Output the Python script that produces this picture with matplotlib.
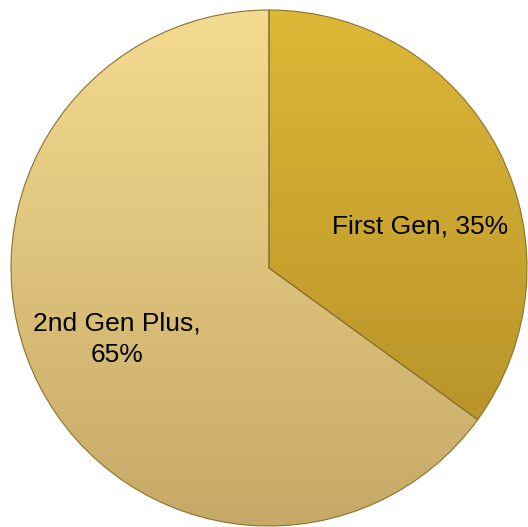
import numpy as np
import matplotlib
matplotlib.use("Agg")
from matplotlib import pyplot as plt
from matplotlib.colors import LinearSegmentedColormap

labels = ["First Gen", "2nd Gen Plus"]
shares = [35, 65]
label_text = ["First Gen, 35%", "2nd Gen Plus,\n65%"]
# top / bottom colours of the vertical gradient in each slice
top_colors = ["#DDB736", "#F4DB90"]
bottom_colors = ["#B08C27", "#C6A966"]
# baseline of the first line of each label, in data units
label_pos = [(0.585, 0.132), (-0.59, -0.244)]
line_gap = 0.12

fig = plt.figure(figsize=(5.28, 5.27), dpi=100)
ax = fig.add_axes([0, 0, 1, 1])
ax.axis("off")

wedges, _ = ax.pie(shares, startangle=90, counterclock=False, radius=1,
                   colors=top_colors,
                   wedgeprops=dict(edgecolor="#8a7330", linewidth=0.8))

grad = np.linspace(0, 1, 256).reshape(-1, 1)
for w, c0, c1 in zip(wedges, top_colors, bottom_colors):
    cmap = LinearSegmentedColormap.from_list("g", [c0, c1])
    im = ax.imshow(grad, cmap=cmap, extent=[-1, 1, -1, 1], origin="upper",
                   aspect="auto", zorder=w.get_zorder() + 0.1)
    im.set_clip_path(w)
    w.set_zorder(w.get_zorder() + 0.2)
    w.set_facecolor("none")

ax.set_aspect("auto")
ax.set_xlim(-269 / 258, (528 - 269) / 258)
ax.set_ylim(-(527 - 268) / 258, 268 / 258)

for txt, (x, y) in zip(label_text, label_pos):
    for i, line in enumerate(txt.split("\n")):
        ax.text(x, y - i * line_gap, line, ha="center", va="baseline",
                fontsize=19, family="Liberation Sans", color="black", zorder=5)

fig.savefig("out.png", dpi=100)
